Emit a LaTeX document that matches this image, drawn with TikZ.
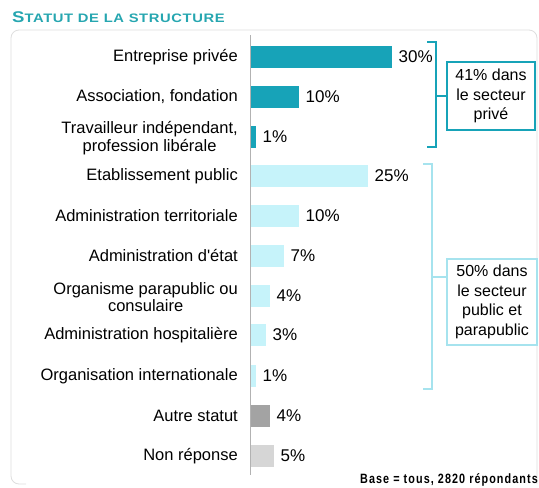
\documentclass[tikz,border=0pt]{standalone}
\usepackage{fontspec}
\setmainfont{Liberation Sans}[Ligatures=TeXOff]
\newfontfamily\titlefont[FakeStretch=1.2,LetterSpace=5]{Liberation Sans}
\newfontfamily\basefont[FakeStretch=0.8,LetterSpace=8]{Liberation Sans}
\definecolor{tealA}{HTML}{17A3B8}
\definecolor{cyanL}{HTML}{C6F3FA}
\definecolor{cyanB}{HTML}{A6E3EE}
\definecolor{titleC}{HTML}{26A6B0}
\definecolor{grA}{HTML}{A3A3A3}
\definecolor{grB}{HTML}{D6D6D6}
\definecolor{panelC}{HTML}{DEDEDE}
\tikzset{
  lab/.style={anchor=east, align=center, inner sep=0pt, font=\fontsize{16.5}{17.5}\selectfont},
  bar/.style={anchor=west, draw=none, fill=#1, minimum height=22pt, inner sep=0pt},
  pct/.style={anchor=west, inner sep=0pt, xshift=6pt, font=\fontsize{17}{17}\selectfont},
  boxtxt/.style={draw=#1, align=center, inner sep=0pt, font=\fontsize{16}{19.5}\selectfont},
}
\begin{document}
\begin{tikzpicture}[x=1pt,y=-1pt]
\useasboundingbox (0,0) rectangle (539,488);
% panel
\draw[panelC, line width=0.8pt, rounded corners=8pt] (26,484) -- (11,484) -- (11,30) -- (537,30) -- (537,484);
% title
\node[anchor=west, inner sep=0pt, text=titleC, font=\bfseries\titlefont] (title) at (12,17)
  {{\fontsize{15.5}{15}\selectfont S}{\fontsize{12.3}{12}\selectfont TATUT DE LA STRUCTURE}};
% axis
\coordinate (axt) at (250,35);
\coordinate (axb) at (250,475);
% bars
\node[bar=tealA, minimum width=142pt] (b1) at (250,57) {};
\node[bar=tealA, minimum width=49pt] (b2) at (250,97) {};
\node[bar=tealA, minimum width=6pt] (b3) at (250,137) {};
\node[bar=cyanL, minimum width=118pt] (b4) at (250,176) {};
\node[bar=cyanL, minimum width=49pt] (b5) at (250,216) {};
\node[bar=cyanL, minimum width=34pt] (b6) at (250,256) {};
\node[bar=cyanL, minimum width=20pt] (b7) at (250,296) {};
\node[bar=cyanL, minimum width=16pt] (b8) at (250,335) {};
\node[bar=cyanL, minimum width=6pt] (b9) at (250,376) {};
\node[bar=grA, minimum width=20pt] (b10) at (250,416) {};
\node[bar=grB, minimum width=24pt] (b11) at (250,456) {};
\draw[gray!60, line width=0.8pt] (axt) -- (axb);
% values
\node[pct] (v1) at (b1.east) {30\%};
\node[pct] (v2) at (b2.east) {10\%};
\node[pct] (v3) at (b3.east) {1\%};
\node[pct] (v4) at (b4.east) {25\%};
\node[pct] (v5) at (b5.east) {10\%};
\node[pct] (v6) at (b6.east) {7\%};
\node[pct] (v7) at (b7.east) {4\%};
\node[pct] (v8) at (b8.east) {3\%};
\node[pct] (v9) at (b9.east) {1\%};
\node[pct] (v10) at (b10.east) {4\%};
\node[pct] (v11) at (b11.east) {5\%};
% labels
\node[lab] (l1) at (238,57) {Entreprise privée};
\node[lab] (l2) at (238,97) {Association, fondation};
\node[lab] (l3) at (238,138) {Travailleur indépendant,\\profession libérale};
\node[lab] (l4) at (238,176) {Etablissement public};
\node[lab] (l5) at (238,216) {Administration territoriale};
\node[lab] (l6) at (238,256) {Administration d'état};
\node[lab] (l7) at (238,297) {Organisme parapublic ou\\consulaire};
\node[lab] (l8) at (238,335) {Administration hospitalière};
\node[lab] (l9) at (238,376) {Organisation internationale};
\node[lab] (l10) at (238,416) {Autre statut};
\node[lab] (l11) at (238,456) {Non réponse};
% private bracket
\node[boxtxt=tealA, line width=2pt, minimum width=88pt, minimum height=68pt] (priv) at (491,96)
  {41\% dans\\le secteur\\privé};
\coordinate (pa) at (427,42);
\coordinate (pb) at (436,42);
\coordinate (pc) at (436,147);
\coordinate (pd) at (427,147);
\coordinate (pm) at (436,96);
\draw[tealA, line width=2pt] (pa) -- (pb) -- (pc) -- (pd);
\draw[tealA, line width=2pt] (pm) -- (priv.west);
% public bracket
\node[boxtxt=cyanB, line width=1.5pt, minimum width=90pt, minimum height=86pt] (pub) at (492,302)
  {50\% dans\\le secteur\\public et\\parapublic};
\coordinate (qa) at (423,164);
\coordinate (qb) at (432,164);
\coordinate (qc) at (432,389);
\coordinate (qd) at (423,389);
\coordinate (qm) at (432,277);
\draw[cyanB, line width=1.5pt] (qa) -- (qb) -- (qc) -- (qd);
\draw[cyanB, line width=1.5pt] (qm) -- (qm -| pub.west);
% base
\node[anchor=east, inner sep=0pt, font=\bfseries\basefont\fontsize{13.5}{13.5}\selectfont] (base) at (538,480)
  {Base = tous, 2820 répondants};
\end{tikzpicture}
\end{document}
